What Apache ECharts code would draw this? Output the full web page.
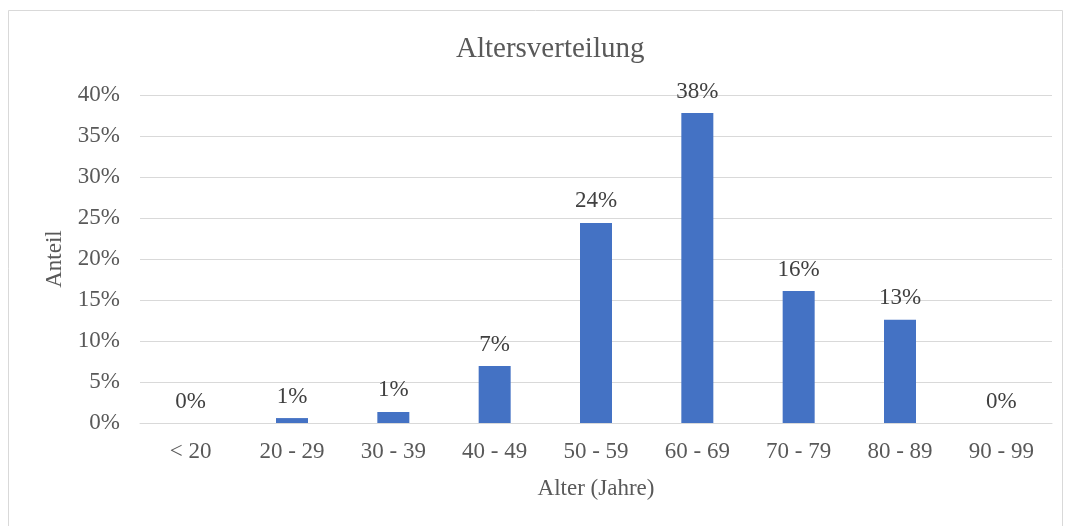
<!DOCTYPE html>
<html>
<head>
<meta charset="utf-8">
<script src="https://cdn.jsdelivr.net/npm/echarts@6/dist/echarts.min.js"></script>
<style>
  html, body { margin: 0; padding: 0; background: #fff; }
  #chart { width: 1069px; height: 526px; }
</style>
</head>
<body>
<div id="chart"></div>
<script>
const kategorien = ['< 20', '20 - 29', '30 - 39', '40 - 49', '50 - 59', '60 - 69', '70 - 79', '80 - 89', '90 - 99'];
const anteile = [0, 0.6, 1.35, 6.95, 24.4, 37.8, 16.1, 12.6, 0];

const schrift = '"Liberation Serif", "Times New Roman", serif';
const grau = '#595959';

const chart = echarts.init(document.getElementById('chart'));

chart.setOption({
    backgroundColor: '#fff',
    textStyle: { fontFamily: schrift },
    graphic: [{
        type: 'rect',
        shape: { x: 8.5, y: 10.5, width: 1054, height: 530 },
        style: { fill: 'none', stroke: '#d9d9d9', lineWidth: 1 },
        silent: true
    }],
    title: {
        text: 'Altersverteilung',
        left: 451,
        top: 30,
        textStyle: { fontFamily: schrift, fontSize: 29, fontWeight: 'normal', color: grau }
    },
    grid: { left: 140, right: 17, top: 95, bottom: 103 },
    xAxis: {
        type: 'category',
        data: kategorien,
        name: 'Alter (Jahre)',
        nameLocation: 'middle',
        nameGap: 54,
        nameTextStyle: { fontFamily: schrift, fontSize: 23, color: grau },
        axisLine: { lineStyle: { color: '#d9d9d9', width: 1 } },
        axisTick: { show: false },
        axisLabel: { fontFamily: schrift, fontSize: 23, color: grau, margin: 17 }
    },
    yAxis: {
        type: 'value',
        min: 0,
        max: 40,
        interval: 5,
        name: 'Anteil',
        nameLocation: 'middle',
        nameGap: 72,
        nameRotate: 90,
        nameTextStyle: { fontFamily: schrift, fontSize: 23, color: grau },
        axisLine: { show: false },
        axisTick: { show: false },
        splitLine: { lineStyle: { color: '#d9d9d9', width: 1 } },
        axisLabel: {
            fontFamily: schrift, fontSize: 23, color: grau, margin: 20,
            formatter: v => v + '%'
        }
    },
    series: [{
        type: 'bar',
        data: anteile,
        barWidth: 32,
        itemStyle: { color: '#4472c4' },
        label: {
            show: true,
            position: 'top',
            distance: 10,
            fontFamily: schrift,
            fontSize: 23,
            color: '#404040',
            formatter: p => Math.round(p.value) + '%'
        }
    }]
});
</script>
</body>
</html>
